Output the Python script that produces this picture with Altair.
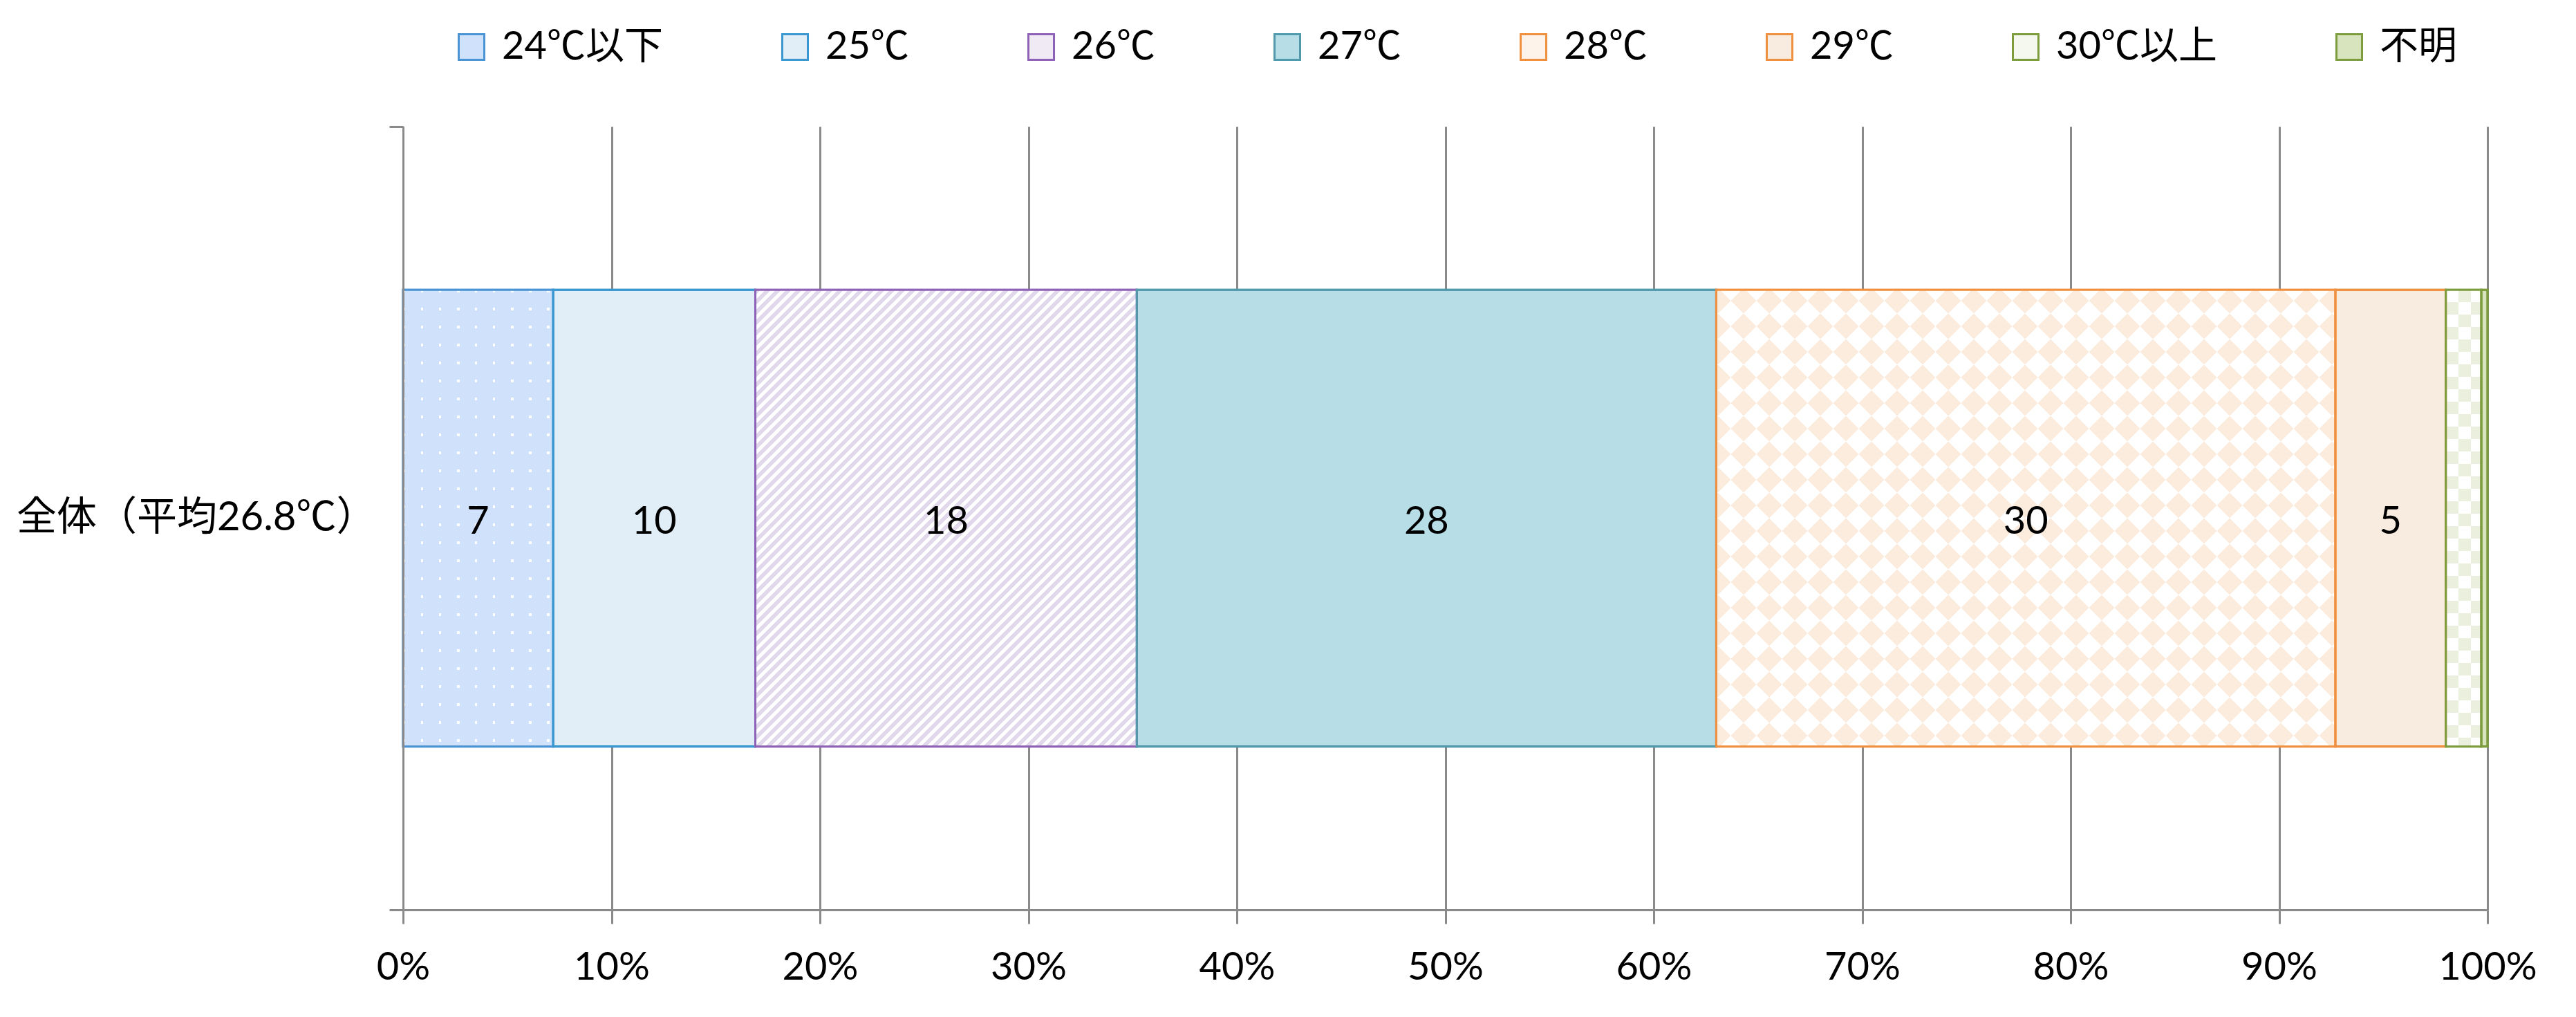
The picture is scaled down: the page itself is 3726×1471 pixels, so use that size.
import altair as alt
import pandas as pd

# ---------------- data ----------------
categories = ["24℃以下", "25℃", "26℃", "27℃", "28℃", "29℃", "30℃以上", "不明"]
values = [7.2, 9.7, 18.3, 27.8, 29.7, 5.3, 1.7, 0.3]
row_label = "全体（平均26.8℃）"
tick_values = [0, 0.1, 0.2, 0.3, 0.4, 0.5, 0.6, 0.7, 0.8, 0.9, 1.0]

fill_colors = ["#d0e2fb", "#e1eef7", "#efeaf4", "#b7dde7", "#fdf3ea", "#f7ecdf", "#f4f8ee", "#d8e4bd"]
stroke_colors = ["#4a93d4", "#3a97d0", "#8e62b6", "#519aab", "#ef9040", "#ef9040", "#7c9c3e", "#7c9c3e"]

FONT = "Lato, 'Noto Sans CJK JP', sans-serif"
GRAY = "#8a8a8a"
W, H = 3015, 1133
BAND = 0.583
FS = 56

starts, ends = [], []
acc = 0.0
for v in values:
    starts.append(acc / 100)
    acc += v
    ends.append(acc / 100)

df = pd.DataFrame({
    "cat": categories,
    "row": [row_label] * len(categories),
    "start": starts,
    "end": ends,
    "mid": [(a + b) / 2 for a, b in zip(starts, ends)],
    "label": [str(int(round(v))) if v >= 5 else "" for v in values],
})


# ---------------- pattern helpers (styling only) ----------------
def stripe_grad(x1, y1, x2, y2, n, duty, c_on, c_off):
    stops = []
    k = 0
    while k < n:
        a = min(k / n, 1.0)
        b = min((k + duty) / n, 1.0)
        c = min((k + 1) / n, 1.0)
        stops += [(a, c_on), (b, c_on), (b, c_off), (c, c_off)]
        k += 1
    return {"gradient": "linear", "x1": x1, "y1": y1, "x2": x2, "y2": y2,
            "stops": [{"offset": o, "color": col} for o, col in stops]}


def seg_size(cat):
    i = categories.index(cat)
    return values[i] / 100 * W, BAND * H


def diag(cat, period, duty, c_on, c_off, up=True):
    w, h = seg_size(cat)
    r = h / w
    s = (1 + r) / (1 + r * r)
    n = (w + h) / period
    if up:
        return stripe_grad(0, 0, s, s * r, n, duty, c_on, c_off)
    return stripe_grad(0, 1, s, 1 - s * r, n, duty, c_on, c_off)


def horiz(cat, period, duty, c_on, c_off):
    w, h = seg_size(cat)
    return stripe_grad(0, 0, 0, 1, h / period, duty, c_on, c_off)


def vert(cat, period, duty, c_on, c_off):
    w, h = seg_size(cat)
    return stripe_grad(0, 0, 1, 0, w / period, duty, c_on, c_off)


x_enc = alt.X("start:Q", scale=alt.Scale(domain=[0, 1], nice=False, zero=False),
              axis=alt.Axis(values=tick_values, format=".0%", grid=True, gridColor=GRAY,
                            gridWidth=3, domainColor=GRAY, domainWidth=3, tickColor=GRAY,
                            tickWidth=3, tickSize=20, labelFontSize=FS, labelFont=FONT,
                            labelColor="black", labelPadding=36, labelFlush=False, title=None))
x2_enc = alt.X2("end:Q")
y_enc = alt.Y("row:N", title=None, scale=alt.Scale(paddingInner=0, paddingOuter=0),
              axis=alt.Axis(tickBand="extent", domainColor=GRAY, domainWidth=3, tickColor=GRAY,
                            tickWidth=3, tickSize=20, labelFontSize=58, labelFont=FONT,
                            labelColor="black", labelPadding=19, labelLimit=1000, zindex=1))

legend = alt.Legend(orient="none", legendX=71, legendY=-143, direction="horizontal",
                    title=None, symbolType="square", symbolSize=1369, symbolStrokeWidth=3,
                    labelFontSize=FS, labelFont=FONT, labelColor="black", labelOffset=16,
                    columnPadding=163, labelLimit=1000, padding=0)
fill_scale = alt.Scale(domain=categories, range=fill_colors)
stroke_scale = alt.Scale(domain=categories, range=stroke_colors)

bh = {"band": BAND}
base = alt.Chart(df)

layer_base = base.mark_bar(height=bh, strokeWidth=3).encode(
    x=x_enc, x2=x2_enc, y=y_enc,
    fill=alt.Fill("cat:N", scale=fill_scale, legend=legend, sort=categories),
    stroke=alt.Stroke("cat:N", scale=stroke_scale, legend=legend, sort=categories),
)

def pat(cat, grad, blend=None):
    kw = {"height": bh, "fill": grad, "strokeWidth": 0}
    if blend:
        kw["blend"] = blend
    return base.transform_filter(alt.datum.cat == cat).mark_bar(**kw).encode(
        x="start:Q", x2="end:Q", y="row:N")

# 24℃以下: white dots on blue
dot_B = "#d0e2fb"
l_dots1 = pat("24℃以下", horiz("24℃以下", 26, 3.5 / 26, "#ffffff", dot_B))
l_dots2 = pat("24℃以下", vert("24℃以下", 26, 3.5 / 26, "#ffffff", dot_B), "darken")
# 26℃: diagonal lavender stripes
l_str = pat("26℃", diag("26℃", 15, 0.5, "#e1d9eb", "#ffffff"))
# 28℃: peach diamonds (rotated checkerboard via difference blending)
D28 = "#041322"
l_dia1 = pat("28℃", diag("28℃", 74, 0.5, D28, "#000000", up=True))
l_dia2 = pat("28℃", diag("28℃", 74, 0.5, D28, "#000000", up=False), "difference")
l_dia3 = pat("28℃", "#ffffff", "difference")
# 30℃以上: checkerboard
D30 = "#140f21"
l_chk1 = pat("30℃以上", vert("30℃以上", 36, 0.5, "#000000", D30))
l_chk2 = pat("30℃以上", horiz("30℃以上", 36, 0.5, "#000000", D30), "difference")
l_chk3 = pat("30℃以上", "#ffffff", "difference")

layer_stroke = base.mark_bar(height=bh, fillOpacity=0, strokeWidth=3).encode(
    x="start:Q", x2="end:Q", y="row:N",
    stroke=alt.Stroke("cat:N", scale=stroke_scale, legend=legend, sort=categories),
)

layer_text = base.mark_text(fontSize=FS, font=FONT, color="black", dy=5).encode(
    x="mid:Q", y="row:N", text="label:N")

chart = alt.layer(
    layer_base, l_dots1, l_dots2, l_str, l_dia1, l_dia2, l_dia3,
    l_chk1, l_chk2, l_chk3, layer_stroke, layer_text
).properties(
    width=W, height=H,
    autosize=alt.AutoSizeParams(type="none"),
    padding={"left": 575, "top": 175, "right": 110, "bottom": 140},
    background="white",
).configure_view(stroke=None)

chart.save("out.html", embed_options={"renderer": "svg", "actions": False})
